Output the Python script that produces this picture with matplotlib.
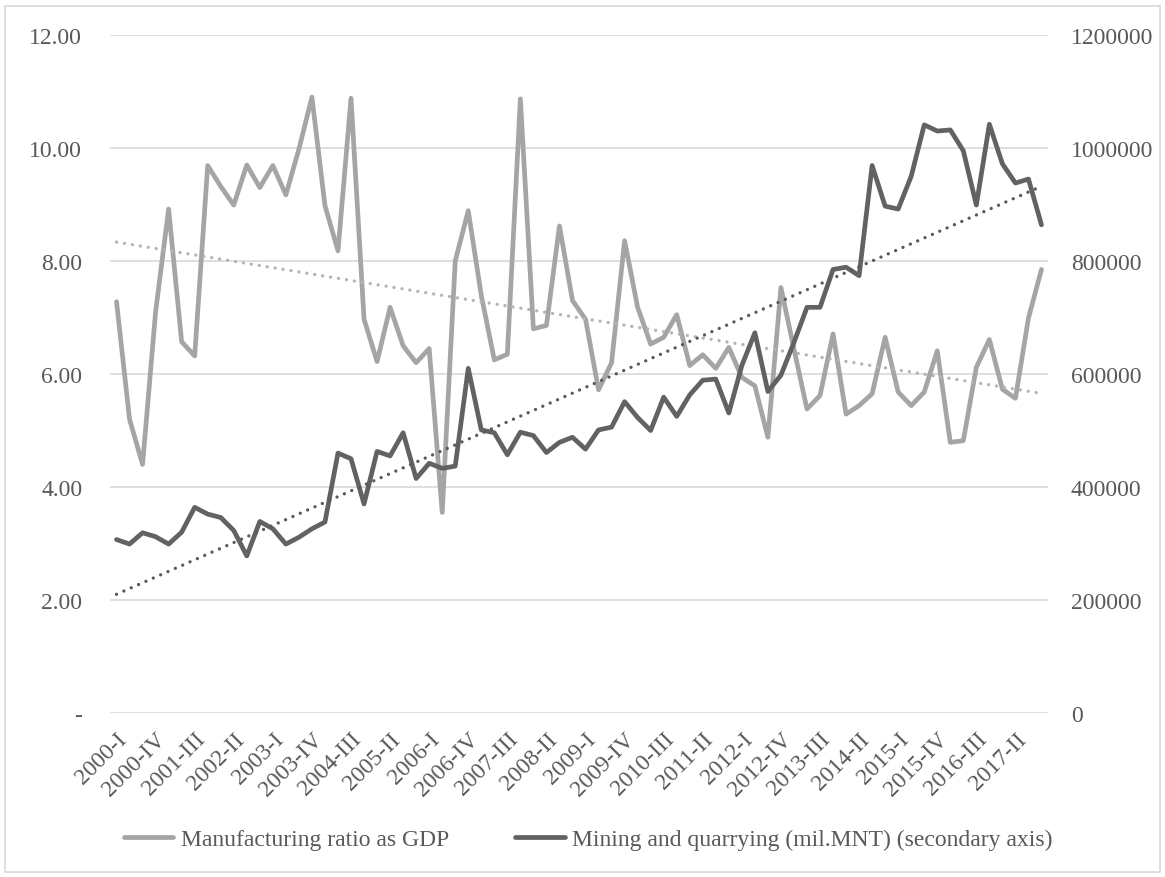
import numpy as np
import matplotlib
matplotlib.use("Agg")
import matplotlib.pyplot as plt
from matplotlib.patches import Rectangle

# ---- data ----
years = list(range(2000, 2018))
quarters = ["I", "II", "III", "IV"]
categories = [f"{y}-{q}" for y in years for q in quarters]

manufacturing = [
    7.28, 5.20, 4.40, 7.10, 8.92, 6.57, 6.32, 9.69, 9.32, 8.99,
    9.70, 9.30, 9.69, 9.17, 9.98, 10.90, 8.98, 8.18, 10.88, 6.97,
    6.22, 7.18, 6.50, 6.20, 6.45, 3.55, 8.00, 8.89, 7.39, 6.25,
    6.35, 10.87, 6.80, 6.86, 8.62, 7.30, 6.97, 5.72, 6.20, 8.36,
    7.18, 6.53, 6.65, 7.05, 6.15, 6.34, 6.10, 6.47, 5.94, 5.79,
    4.88, 7.53, 6.44, 5.38, 5.62, 6.71, 5.29, 5.44, 5.65, 6.65,
    5.68, 5.44, 5.68, 6.41, 4.79, 4.82, 6.12, 6.61, 5.73, 5.57,
    6.99, 7.85,
]

mining = [
    307000, 299000, 319000, 312000, 299000, 320000, 364000, 352000, 346000, 323000,
    278000, 339000, 326000, 299000, 311000, 326000, 338000, 460000, 450000, 370000,
    463000, 455000, 496000, 415000, 442000, 433000, 437000, 610000, 501000, 496000,
    457000, 497000, 491000, 461000, 479000, 488000, 467000, 501000, 506000, 551000,
    523000, 500000, 559000, 525000, 563000, 589000, 591000, 531000, 615000, 673000,
    569000, 598000, 656000, 718000, 718000, 785000, 789000, 774000, 969000, 897000,
    892000, 950000, 1041000, 1030000, 1032000, 995000, 899000, 1042000, 972000, 938000,
    945000, 864000,
]

left_ticks = [0, 2, 4, 6, 8, 10, 12]
left_labels = ["-", "2.00", "4.00", "6.00", "8.00", "10.00", "12.00"]
right_ticks = [0, 200000, 400000, 600000, 800000, 1000000, 1200000]
right_labels = ["0", "200000", "400000", "600000", "800000", "1000000", "1200000"]

series_names = ["Manufacturing ratio as GDP", "Mining and quarrying (mil.MNT) (secondary axis)"]

# ---- style ----
W, H = 1165, 878
FONT = "Liberation Serif"
FS = 17
TXT = "#595959"
C_LIGHT = "#a5a5a5"
C_DARK = "#626262"
GRID = "#d9d9d9"

plt.rcParams["font.family"] = [FONT, "DejaVu Serif"]

fig = plt.figure(figsize=(W / 100, H / 100), dpi=100)
fig.patches.append(Rectangle((5 / W, 5 / H), (W - 10) / W, (H - 12) / H,
                             transform=fig.transFigure, fill=False,
                             edgecolor=GRID, linewidth=1.2))

left, right_px, top, bottom = 110, 1048, 36, 714
ax = fig.add_axes([left / W, 1 - bottom / H, (right_px - left) / W, (bottom - top) / H])
ax2 = ax.twinx()

x = np.arange(len(categories))

l1, = ax.plot(x, manufacturing, color=C_LIGHT, lw=3.4, solid_joinstyle="round",
              solid_capstyle="round", label=series_names[0], zorder=3)
p1 = np.polyfit(x, manufacturing, 1)
ax.plot(x, np.polyval(p1, x), color="#b4b4b4", lw=2.4,
        linestyle=(0, (0.01, 2.4)), dash_capstyle="round", zorder=4)

l2, = ax2.plot(x, mining, color=C_DARK, lw=3.4, solid_joinstyle="round",
               solid_capstyle="round", label=series_names[1], zorder=3)
p2 = np.polyfit(x, mining, 1)
ax2.plot(x, np.polyval(p2, x), color="#5a5a5a", lw=2.4,
         linestyle=(0, (0.01, 2.4)), dash_capstyle="round", zorder=4)

ax.set_xlim(-0.5, len(categories) - 0.5)
ax.set_ylim(0, 12)
ax2.set_ylim(0, 1200000)

ax.set_yticks(left_ticks)
ax.set_yticklabels(left_labels)
ax2.set_yticks(right_ticks)
ax2.set_yticklabels(right_labels)

ax.grid(axis="y", color=GRID, lw=1.2)
ax.set_axisbelow(True)
for a in (ax, ax2):
    for s in a.spines.values():
        s.set_visible(False)

ax.tick_params(axis="y", length=0, pad=20, labelsize=FS, labelcolor=TXT)
ax2.tick_params(axis="y", length=0, pad=16.5, labelsize=FS, labelcolor=TXT)

tick_idx = x[::3]
ax.set_xticks(tick_idx)
ax.set_xticklabels([categories[i] for i in tick_idx], rotation=45, ha="right",
                   rotation_mode="anchor")
ax.tick_params(axis="x", length=0, pad=11, labelsize=FS, labelcolor=TXT)

leg = fig.legend(handles=[l1, l2], loc="center", bbox_to_anchor=(588 / W, 1 - 840 / H),
                 ncol=2, frameon=False, fontsize=FS, handlelength=2.1,
                 handletextpad=0.3, columnspacing=2.8, labelcolor=TXT)

fig.savefig("out.png", dpi=100)
